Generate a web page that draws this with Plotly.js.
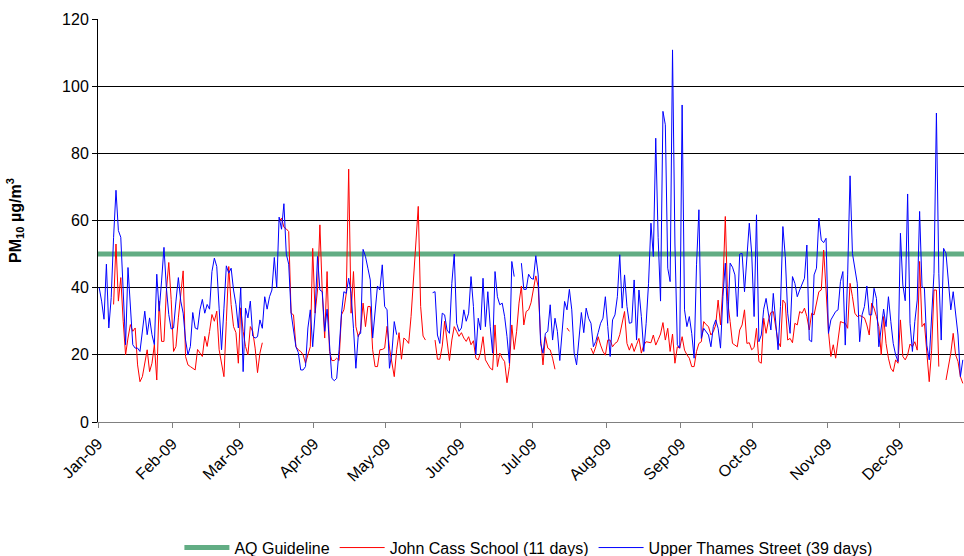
<!DOCTYPE html>
<html>
<head>
<meta charset="utf-8">
<script src="https://cdn.plot.ly/plotly-3.0.1.min.js"></script>
<style>
  body { margin: 0; background: #fff; }
  #graph { width: 964px; height: 556px; }
</style>
</head>
<body>
<div id="graph"></div>
<script>
// ----------------- datos -----------------
const primerDia = '2009-01-01';
const ultimoDia = '2009-12-28';
const guiaAQ = 50;
const nombres = ['AQ Guideline', 'John Cass School (11 days)', 'Upper Thames Street (39 days)'];

// PM10 diario (ug/m3) desde el 1 de enero, una fila por mes, null = sin dato
const johnCass = [
  null,null,null,null,null,null,35,53,36,43,30,20,25,29,27,28,17,12,13.5,17,21.5,15,17.5,23,12.5,36,24,24,39,47.5,36.5,
  21,22.5,31,39,45,19.5,17,16.5,16,15.5,21.6,20.5,19.5,25.5,22.5,27,32,30,33,21.5,17,13.5,30,46.3,35,28.4,26.6,17.5,
  34,27,22.5,20,28.4,27,22,14.7,20.5,23.6,null,null,null,null,null,null,59.7,60.7,58,57.5,56.7,32.4,31.9,22.4,21.5,21,20,17.5,20,22.4,51.7,
  32.4,39.3,58.7,38.3,25,44.8,21,18.3,18.3,19,18.3,31.9,33.4,38.3,75.3,32.4,44.8,28.4,25.4,27.4,35.4,28.4,34.4,34.4,21.5,16.5,16.5,21.5,21.6,22,
  28.5,22,17.5,13.5,21.5,26.6,18.7,25,24.4,23.4,31.4,41.8,53.2,64.2,34.4,25.6,24.4,null,null,null,24.4,18.7,18.7,22.6,30,23.4,18.3,24.4,28.4,27,25.5,
  26.6,25,24,25.4,23,24.2,19,18.5,20.7,25.4,18.5,17,16,15.5,28.9,16.5,20.5,19,18,11.7,16.5,28.9,21.6,27,35.4,40.5,28.9,32.9,33.4,35.5,
  39,43.5,40.3,25,17,25.4,22,21.5,19,15.7,null,null,null,null,28,27,null,null,null,null,null,null,null,null,22,20.3,22.4,25.4,22.9,21,19.9,
  24.4,24.4,22.4,23.4,23.9,26,29.4,32.9,23.4,21.4,23.4,21,23,24.9,20.5,22.9,23.9,23.7,23.6,25.9,22.9,24.5,26.2,29.6,24.4,27.9,21,26.2,17.5,22.4,22,
  25.4,21.4,20,19,16.5,16.5,21,23.4,23.9,29.9,29,28.4,25.9,26.9,28.9,36.3,28.9,40.3,61.2,35.9,29.9,23.4,22.9,22.4,27.4,28.9,33.4,23.4,23.6,21.5,
  22.2,27.9,18,17.5,30.9,26.4,30.4,32.6,32.9,28.6,23.9,22.4,36.3,35.4,24.4,24.9,23.6,29.4,28.9,32.9,32.4,33.9,31.4,27.4,32.4,31.9,35,38.8,39.3,51.2,39.3,
  26.9,19.5,23,19,25,29.9,29.6,29.4,27.9,41.3,37.3,32.4,31.4,31.7,31.4,31,28.9,25.9,35.4,33.9,31.4,28.4,20,31.4,23.4,19,16,15,18.5,17.5,
  30.4,19.5,18.5,20,23.2,22.4,23.9,21.4,47.8,28.4,29.4,20.5,12,21.4,39.3,39.3,16.5,null,null,12.5,16,20.5,26.4,20,18,13.5,11.5
];

const upperThames = [
  40,36,30.6,47,28,37,55,69,57,55,39,23,46,35,23,22,22,21,27,33,26,31,26,23,44,33,42,52,40,32,27.7,
  28,36,43,36,32.4,24.4,20,22.5,32.6,28,27.6,33.4,36.5,32.4,35,33.6,44.8,48.8,46.3,33.9,21.5,33.9,46.5,44.3,45.8,39.3,35,28,
  40,15,33.9,31,36,25.6,25,25.4,30.4,27.9,37.3,33.6,37.3,39.3,49,40,61,57.4,65,50,47,32.4,27,22.4,20.7,15.5,15.5,16.5,28,33.4,22.4,
  32.4,49.3,39.3,38.8,27,33.6,21.5,13,12.3,13,21.5,32.4,38.8,38.3,42.8,38.3,27.9,16,25.9,26.4,51.4,49.3,45.8,42.3,25,33.4,40.5,39.3,46.8,34.4,
  33.4,16,20.5,29.9,26,null,null,null,null,null,null,null,null,null,null,null,null,null,null,38.5,38.8,25.9,23.4,32.4,31.9,27.4,26.4,41.3,50,29.4,27,
  28,33.4,30,32.4,43.3,34.4,20,30.9,27.4,42.8,28.4,38.8,28.4,20.5,44.8,37.3,34.9,35.4,31.4,25.4,17.5,47.8,43.3,null,null,47.3,39.5,39.5,44,42.8,
  42.5,49.5,43.8,23.4,20.5,26.4,27,34.9,24.4,30.9,27,18.3,27.9,35.9,33.4,39.5,33.4,20.5,17,25.4,32.6,26.6,33.9,30.9,29.4,22.4,24,26.6,29.4,30.9,37.3,
  28.4,19.5,30.4,31.9,37.3,49.8,33.9,43.8,34.4,29.4,29.6,42.3,24.4,39.3,31.4,21,29.4,41.3,59.2,49.3,84.5,55,36,92.5,88.5,45.8,41.8,110.8,53,23,22,
  94.4,33.4,28.4,31.4,26.4,19,46.8,63.2,24.9,27.9,26.9,25.9,22.4,28.4,30.4,27.9,22,37.3,47.3,29.4,47.3,46.1,43.8,31.4,50,50.2,38.8,49.8,59.2,50.2,
  31.4,61.7,23.9,25.9,33.6,36.8,32,27.4,38.3,28.4,21.5,34.4,58.2,49.3,32.4,26.4,43.3,41.3,37.3,39.3,41,42.8,52.7,24.4,23.9,43.8,45.8,60.7,54.2,53.4,54.7,
  26.4,30.4,31.9,32.9,33.4,41.8,44.8,22.9,43.8,73.3,50.2,46.3,41.3,23.9,31.9,34.4,40.5,31.9,31.9,39.8,36.8,22.4,28.4,33.6,28.4,37.3,29.9,23.4,20,18,
  56.2,40.8,36.1,67.9,29.4,21,29.9,36.3,62.7,40.3,39.8,22.9,18.5,30.4,44.3,92,44.3,24.4,51.7,50.2,41.3,33.4,38.8,31.4,25.9,13.5,18.5
];

// fechas: cada valor va a mediodia de su dia
const t0 = Date.parse(primerDia + 'T00:00:00Z');
function fechaDia(i) {
  return new Date(t0 + (i + 0.5) * 86400000).toISOString().slice(0, 19).replace('T', ' ');
}
const fechasCass = johnCass.map((v, i) => fechaDia(i));
const fechasThames = upperThames.map((v, i) => fechaDia(i));

// ----------------- grafico -----------------
const data = [
  {
    x: [primerDia, ultimoDia],
    y: [guiaAQ, guiaAQ],
    mode: 'lines',
    name: nombres[0],
    line: {color: '#62ad84', width: 5},
    hoverinfo: 'skip'
  },
  {
    x: fechasCass,
    y: johnCass,
    mode: 'lines',
    name: nombres[1],
    line: {color: '#ff0000', width: 1},
    connectgaps: false
  },
  {
    x: fechasThames,
    y: upperThames,
    mode: 'lines',
    name: nombres[2],
    line: {color: '#0000ff', width: 1},
    connectgaps: false
  }
];

const layout = {
  width: 964,
  height: 556,
  margin: {l: 98, r: 0, t: 19, b: 134, autoexpand: false},
  paper_bgcolor: '#fff',
  plot_bgcolor: '#fff',
  font: {family: 'Liberation Sans, Arial, sans-serif', size: 16, color: '#000'},
  showlegend: true,
  legend: {
    orientation: 'h',
    x: 0.094, xanchor: 'left',
    yref: 'container',
    y: 0.015, yanchor: 'middle',
    itemwidth: 45,
    font: {size: 16},
    bgcolor: 'rgba(0,0,0,0)'
  },
  xaxis: {
    type: 'date',
    range: [primerDia, ultimoDia],
    tick0: primerDia,
    dtick: 'M1',
    tickformat: '%b-%y',
    tickangle: -45,
    ticks: 'outside',
    ticklen: 5,
    tickcolor: '#808080',
    showgrid: false,
    showline: true,
    linecolor: '#808080',
    zeroline: false,
    automargin: false,
    tickfont: {size: 16}
  },
  yaxis: {
    range: [0, 120],
    dtick: 20,
    ticks: 'outside',
    ticklen: 5,
    tickcolor: '#000',
    showgrid: true,
    gridcolor: '#000',
    gridwidth: 1,
    showline: true,
    linecolor: '#000',
    zeroline: false,
    automargin: false,
    tickfont: {size: 16},
    title: {
      text: '<b>PM<sub>10</sub> µg/m<sup>3</sup></b>',
      font: {size: 16},
      standoff: 36
    }
  }
};

Plotly.newPlot('graph', data, layout, {displayModeBar: false, staticPlot: true});
</script>
</body>
</html>
